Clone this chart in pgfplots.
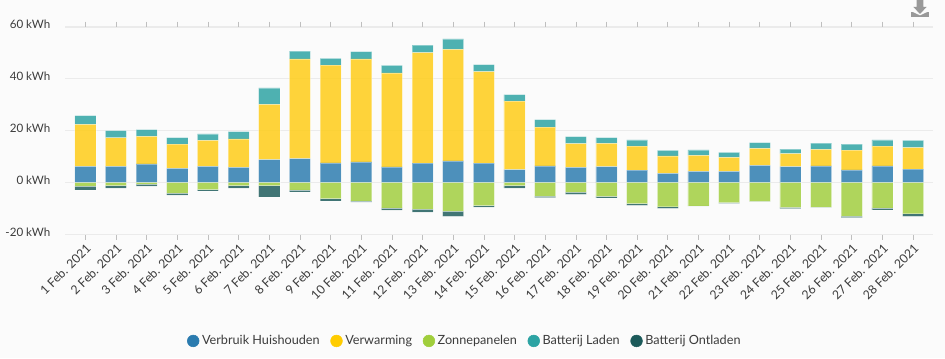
\documentclass[border=0pt]{standalone}
\usepackage{fontspec}
\setmainfont{Lato}
\usepackage{pgfplots}
\usepackage{pgfplotstable}
\pgfplotsset{compat=1.18}
\definecolor{cblue}{HTML}{2A7BAF}
\definecolor{cyellow}{HTML}{FFCC00}
\definecolor{cyellowbar}{HTML}{FFCC13}
\definecolor{cgreen}{HTML}{A0CE3C}
\definecolor{cteal}{HTML}{2CA3A3}
\definecolor{cdark}{HTML}{1C5A5A}
\definecolor{cbg}{HTML}{FBFBFB}
\definecolor{cgrid}{HTML}{EBEBEB}
\definecolor{ctext}{HTML}{3C3C3C}
\pgfplotstableread{
x huis verw laden zon ontl
0 6.3 16.2 3.3 -1.3 -1.5
1 6.3 11.0 2.8 -1.2 -0.9
2 7.2 10.6 2.6 -0.6 -0.7
3 5.5 9.3 2.6 -4.0 -0.8
4 6.3 10.0 2.5 -2.7 -0.5
5 5.9 11.0 2.8 -1.2 -0.9
6 8.9 21.3 6.3 -1.2 -4.3
7 9.3 38.4 3.0 -2.8 -0.8
8 7.6 37.7 2.6 -6.2 -0.8
9 8.0 39.7 2.8 -7.0 -0.5
10 6.1 36.2 2.9 -9.7 -0.9
11 7.5 42.6 2.9 -10.2 -1.2
12 8.4 43.0 4.0 -11.0 -2.0
13 7.5 35.3 2.7 -8.9 -0.5
14 5.0 26.4 2.5 -1.2 -0.9
15 6.5 14.9 2.9 -5.2 -0.6
16 5.9 9.1 2.7 -3.7 -0.8
17 6.2 8.9 2.3 -5.3 -0.6
18 4.8 9.3 2.4 -8.1 -0.7
19 3.6 6.7 2.1 -9.3 -0.6
20 4.3 6.2 2.1 -9.0 -0.1
21 4.3 5.4 2.0 -7.7 -0.3
22 6.7 6.5 2.2 -7.2 -0.1
23 6.2 5.0 1.7 -9.5 -0.5
24 6.5 6.3 2.4 -9.4 -0.1
25 4.9 7.6 2.3 -12.9 -0.6
26 6.5 7.6 2.4 -9.7 -0.8
27 5.2 8.3 2.8 -12.0 -1.0
}\datatable
\pgfplotsset{
  common/.style={
    at={(48.75pt,92.625pt)}, anchor=south west,
    scale only axis, width=651pt, height=155.625pt,
    xmin=-0.662, xmax=27.65, ymin=-20, ymax=60,
    ybar stacked, bar width=15.8pt,
  },
  barstyle/.style={fill=#1, fill opacity=0.83, draw=white, draw opacity=0.35, line width=0.4pt, forget plot},
}
\begin{document}
\begin{tikzpicture}
\path[use as bounding box, fill=cbg] (0pt,0pt) rectangle (708.75pt,268.5pt);
\begin{axis}[common,
  axis line style={draw=none},
  ytick={-20,0,20,40,60},
  yticklabels={-20 kWh,0 kWh,20 kWh,40 kWh,60 kWh},
  ymajorgrids, major grid style={cgrid, line width=0.9pt},
  y tick style={draw=none},
  xtick={0,...,27},
  xticklabels={1 Feb. 2021,2 Feb. 2021,3 Feb. 2021,4 Feb. 2021,5 Feb. 2021,6 Feb. 2021,7 Feb. 2021,8 Feb. 2021,9 Feb. 2021,10 Feb. 2021,11 Feb. 2021,12 Feb. 2021,13 Feb. 2021,14 Feb. 2021,15 Feb. 2021,16 Feb. 2021,17 Feb. 2021,18 Feb. 2021,19 Feb. 2021,20 Feb. 2021,21 Feb. 2021,22 Feb. 2021,23 Feb. 2021,24 Feb. 2021,25 Feb. 2021,26 Feb. 2021,27 Feb. 2021,28 Feb. 2021},
  x tick style={draw=black!25, line width=0.5pt},
  tick align=outside, major tick length=4pt,
  x tick label style={rotate=45, anchor=north east, inner sep=1.5pt, font=\fontsize{9.2pt}{10pt}\selectfont, text=ctext},
  y tick label style={font=\fontsize{8.7pt}{10pt}\selectfont, text=ctext, anchor=east, xshift=-3.5pt, yshift=2pt},
  legend image code/.code={\fill[#1] (0.15cm,0pt) circle (4.4pt);},
  legend style={at={(0.461,-0.513)}, anchor=center, draw=none, fill=none, legend columns=5,
    font=\fontsize{9.5pt}{10pt}\selectfont, text=ctext, /tikz/every even column/.style={column sep=6pt}},
]
\addplot[barstyle=cblue] table[x=x,y=huis]{\datatable};
\addplot[barstyle=cyellowbar] table[x=x,y=verw]{\datatable};
\addplot[barstyle=cteal] table[x=x,y=laden]{\datatable};
\addlegendimage{cblue}\addlegendentry{Verbruik Huishouden}
\addlegendimage{cyellow}\addlegendentry{Verwarming}
\addlegendimage{cgreen}\addlegendentry{Zonnepanelen}
\addlegendimage{cteal}\addlegendentry{Batterij Laden}
\addlegendimage{cdark}\addlegendentry{Batterij Ontladen}
\end{axis}
\begin{axis}[common, hide axis]
\addplot[barstyle=cgreen] table[x=x,y=zon]{\datatable};
\addplot[barstyle=cdark] table[x=x,y=ontl]{\datatable};
\end{axis}
% download icon
\fill[black!40] (683.25pt,255.75pt) rectangle (696.75pt,259.5pt);
\fill[cbg] (684.5pt,259.6pt) -- (690pt,257pt) -- (695.5pt,259.6pt) -- cycle;
\fill[black!40] (687.4pt,268.5pt) -- (692.6pt,268.5pt) -- (692.6pt,263.25pt) -- (694.9pt,263.25pt) -- (690pt,258pt) -- (685.1pt,263.25pt) -- (687.4pt,263.25pt) -- cycle;
\end{tikzpicture}
\end{document}
